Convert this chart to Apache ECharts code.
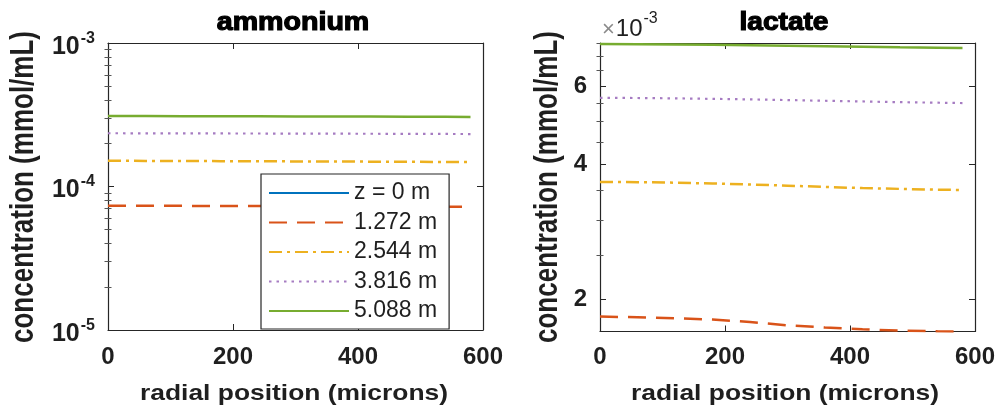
<!DOCTYPE html>
<html>
<head>
<meta charset="utf-8">
<script src="https://cdn.jsdelivr.net/npm/echarts@6/dist/echarts.min.js"></script>
<style>
  html, body { margin: 0; padding: 0; background: #fff; }
  #chart { width: 999px; height: 410px; }
</style>
</head>
<body>
<div id="chart"></div>
<script>
// Radial positions across the fibre wall (microns)
const radialPos = [0, 60, 120, 180, 240, 300, 360, 420, 480, 540, 580];

// Axial positions along the reactor
const zLabels = ['z = 0 m', '1.272 m', '2.544 m', '3.816 m', '5.088 m'];

// Ammonium concentration (mmol/mL) at each axial position
const ammoniumZ0 = [0, 0, 0, 0, 0, 0, 0, 0, 0, 0, 0];
const ammoniumZ1 = [7.35e-5, 7.34e-5, 7.33e-5, 7.32e-5, 7.31e-5, 7.30e-5, 7.28e-5, 7.27e-5, 7.25e-5, 7.23e-5, 7.22e-5];
const ammoniumZ2 = [1.510e-4, 1.508e-4, 1.505e-4, 1.502e-4, 1.499e-4, 1.496e-4, 1.493e-4, 1.490e-4, 1.487e-4, 1.483e-4, 1.480e-4];
const ammoniumZ3 = [2.350e-4, 2.348e-4, 2.345e-4, 2.342e-4, 2.340e-4, 2.337e-4, 2.334e-4, 2.331e-4, 2.328e-4, 2.324e-4, 2.320e-4];
const ammoniumZ4 = [3.100e-4, 3.097e-4, 3.093e-4, 3.089e-4, 3.085e-4, 3.080e-4, 3.075e-4, 3.070e-4, 3.064e-4, 3.057e-4, 3.050e-4];

// Lactate concentration (mmol/mL) at each axial position
const lactateZ0 = [0, 0, 0, 0, 0, 0, 0, 0, 0, 0, 0];
const lactateZ1 = [1.825e-3, 1.820e-3, 1.810e-3, 1.797e-3, 1.775e-3, 1.745e-3, 1.725e-3, 1.710e-3, 1.697e-3, 1.692e-3, 1.690e-3];
const lactateZ2 = [3.660e-3, 3.655e-3, 3.645e-3, 3.630e-3, 3.610e-3, 3.590e-3, 3.565e-3, 3.545e-3, 3.530e-3, 3.515e-3, 3.510e-3];
const lactateZ3 = [5.650e-3, 5.645e-3, 5.635e-3, 5.620e-3, 5.605e-3, 5.585e-3, 5.565e-3, 5.545e-3, 5.525e-3, 5.510e-3, 5.500e-3];
const lactateZ4 = [7.460e-3, 7.455e-3, 7.445e-3, 7.430e-3, 7.415e-3, 7.395e-3, 7.375e-3, 7.355e-3, 7.335e-3, 7.320e-3, 7.310e-3];

// Axis ticks
const xTicks = [0, 200, 400, 600];
const ammoniumMajor = [1e-5, 1e-4, 1e-3];
const ammoniumMinor = [2e-5, 3e-5, 4e-5, 5e-5, 6e-5, 7e-5, 8e-5, 9e-5,
                       2e-4, 3e-4, 4e-4, 5e-4, 6e-4, 7e-4, 8e-4, 9e-4];
const lactateMajor = [2e-3, 4e-3, 6e-3];
const lactateMinor = [2.5e-3, 3e-3, 3.5e-3, 4.5e-3, 5e-3, 5.5e-3, 6.5e-3, 7e-3, 7.5e-3];
const lactateRange = [1.69e-3, 7.5e-3];
const ammoniumRange = [1e-5, 1e-3];

const FONT = 'Liberation Sans, Arial, sans-serif';
const INK = '#1f1f1f';
const BOX = '#262626';

const lineColors = ['#0072BD', '#D95319', '#EDB120', '#A67CC2', '#77AC30'];
const lineTypes = ['solid', [18, 10], [13, 5, 3, 5], [2.5, 5], 'solid'];

const grids = [
  { left: 108, top: 43, width: 375, height: 287 },
  { left: 600, top: 43, width: 375, height: 288.5 }
];

function xAxesFor(g, labelMargin) {
  const base = {
    type: 'value', gridIndex: g, min: 0, max: 600, interval: 200,
    splitLine: { show: false },
    axisLine: { show: true, onZero: false, lineStyle: { color: BOX, width: 1.2 } },
    axisTick: { show: true, inside: true, length: 6, lineStyle: { color: BOX } }
  };
  return [
    Object.assign({}, base, {
      position: 'bottom',
      axisLabel: {
        show: true, margin: labelMargin, fontSize: 24, fontWeight: 'bold',
        fontFamily: FONT, color: INK,
        customValues: xTicks
      }
    }),
    Object.assign({}, base, { position: 'top', axisLabel: { show: false } })
  ];
}

function yAxesFor(g, range, major, minor, labelOpt) {
  const base = {
    type: 'log', logBase: 10, gridIndex: g, min: range[0], max: range[1],
    splitLine: { show: false }, minorTick: { show: false }
  };
  const out = [];
  ['left', 'right'].forEach(function (pos) {
    out.push(Object.assign({}, base, {
      position: pos,
      axisLine: { show: true, onZero: false, lineStyle: { color: BOX, width: 1.2 } },
      axisTick: { show: true, inside: true, length: 6, customValues: major, lineStyle: { color: BOX } },
      axisLabel: pos === 'left' ? labelOpt : { show: false }
    }));
    out.push(Object.assign({}, base, {
      position: pos,
      axisLine: { show: false },
      axisTick: { show: true, inside: true, length: 3.5, customValues: minor, lineStyle: { color: '#555' } },
      axisLabel: { show: false }
    }));
  });
  return out;
}

const ammoniumLabel = {
  show: true, margin: 13, customValues: ammoniumMajor,
  fontSize: 25, fontWeight: 'bold', fontFamily: FONT, color: INK,
  formatter: function (v) {
    const e = Math.round(Math.log10(v));
    return '{b|10}{s|' + e + '}';
  },
  rich: {
    b: { fontSize: 25, fontWeight: 'bold', fontFamily: FONT, color: INK, lineHeight: 25, padding: [8, 0, 0, 0] },
    s: { fontSize: 16, fontWeight: 'bold', fontFamily: FONT, color: INK, lineHeight: 16, padding: [0, 0, 9, 1] }
  }
};

const lactateLabel = {
  show: true, margin: 13, customValues: lactateMajor,
  fontSize: 24, fontWeight: 'bold', fontFamily: FONT, color: INK,
  formatter: function (v) { return String(Math.round(v * 1000)); }
};

const xAxis = xAxesFor(0, 15).concat(xAxesFor(1, 13.5));
const yAxis = yAxesFor(0, ammoniumRange, ammoniumMajor, ammoniumMinor, ammoniumLabel)
  .concat(yAxesFor(1, lactateRange, lactateMajor, lactateMinor, lactateLabel));

function buildSeries(sets, xIdx, yIdx) {
  return sets.map(function (vals, i) {
    return {
      name: zLabels[i], type: 'line', xAxisIndex: xIdx, yAxisIndex: yIdx,
      // zero concentrations have no place on a log axis
      data: radialPos.map(function (x, k) { return [x, vals[k] > 0 ? vals[k] : '-']; }),
      symbol: 'none', showSymbol: false, clip: true,
      color: lineColors[i],
      lineStyle: { color: lineColors[i], width: i === 3 ? 2.2 : 2.5, type: lineTypes[i], cap: 'butt' },
      itemStyle: { color: lineColors[i] },
      z: 2 + i
    };
  });
}

const series = buildSeries([ammoniumZ0, ammoniumZ1, ammoniumZ2, ammoniumZ3, ammoniumZ4], 0, 0)
  .concat(buildSeries([lactateZ0, lactateZ1, lactateZ2, lactateZ3, lactateZ4], 2, 4));

function label(text, x, y, opt) {
  return Object.assign({
    type: 'text', x: x, y: y, silent: true, z: 10,
    style: Object.assign({
      text: text, fill: INK, align: 'center', verticalAlign: 'middle',
      font: 'bold 22px ' + FONT
    }, opt.style || {})
  }, opt.el || {});
}

const graphic = [
  label('ammonium', 293, 23, { style: { font: 'bold 26px ' + FONT, fill: '#000', stroke: '#000', lineWidth: 1.2 }, el: { scaleX: 1.1 } }),
  label('lactate', 784, 23, { style: { font: 'bold 26px ' + FONT, fill: '#000', stroke: '#000', lineWidth: 1.2 }, el: { scaleX: 1.08 } }),
  label('radial position (microns)', 294, 394, { style: { font: 'bold 22px ' + FONT }, el: { scaleX: 1.2 } }),
  label('radial position (microns)', 785, 394, { style: { font: 'bold 22px ' + FONT }, el: { scaleX: 1.2 } }),
  label('concentration (mmol/mL)', 24, 187, { style: { font: 'bold 26px ' + FONT }, el: { rotation: Math.PI / 2, scaleY: 1.3 } }),
  label('concentration (mmol/mL)', 548, 187, { style: { font: 'bold 26px ' + FONT }, el: { rotation: Math.PI / 2, scaleY: 1.3 } }),
  {
    type: 'text', x: 602, y: 11, silent: true, z: 10,
    style: {
      text: '{x|×}{n|10}{s|-3}', align: 'left', verticalAlign: 'top',
      rich: {
        x: { fontSize: 22, fontFamily: FONT, fill: '#8a8a8a', lineHeight: 30, verticalAlign: 'bottom', padding: [0, 1, 0, 0] },
        n: { fontSize: 24, fontFamily: FONT, fill: INK, lineHeight: 24, verticalAlign: 'bottom' },
        s: { fontSize: 16, fontFamily: FONT, fill: INK, lineHeight: 16, verticalAlign: 'top', padding: [0, 0, 0, 1] }
      }
    }
  }
];

const chart = echarts.init(document.getElementById('chart'), null, { renderer: 'canvas' });
chart.setOption({
  animation: false,
  backgroundColor: '#fff',
  grid: grids,
  xAxis: xAxis,
  yAxis: yAxis,
  legend: {
    show: true, data: zLabels, orient: 'vertical',
    left: 261, top: 174,
    padding: [7, 12, 6, 7],
    itemWidth: 80, itemHeight: 14, itemGap: 5.5,
    backgroundColor: '#fff', borderColor: BOX, borderWidth: 1.2, borderRadius: 0,
    selectedMode: false,
    itemStyle: { opacity: 0 },
    textStyle: { fontSize: 23, fontFamily: FONT, color: INK, lineHeight: 24 },
    z: 8
  },
  series: series,
  graphic: graphic
});
</script>
</body>
</html>
